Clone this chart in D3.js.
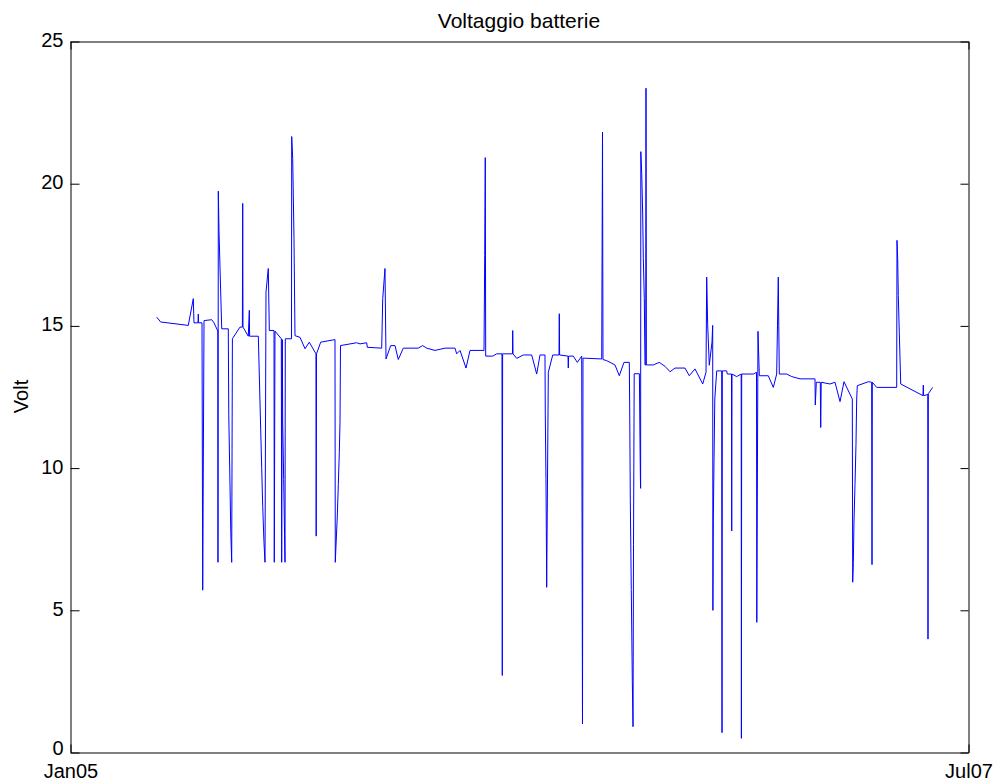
<!DOCTYPE html>
<html>
<head>
<meta charset="utf-8">
<script src="https://cdn.jsdelivr.net/npm/d3@7"></script>
<style>
  html, body { margin: 0; padding: 0; background: #fff; }
  svg { display: block; font-family: "Liberation Sans", Arial, sans-serif; }
</style>
</head>
<body>
<svg id="chart" width="997" height="782"></svg>
<script>
// ---- data ----
const chartTitle = "Voltaggio batterie";
const yLabel = "Volt";
const xTickDates = ["2005-01-01 00", "2007-07-01 00"];
const xTickLabels = ["Jan05", "Jul07"];
const yTicks = [0, 5, 10, 15, 20, 25];

const dates = [
  "2005-03-29 23","2005-04-03 00","2005-05-01 00","2005-05-06 02","2005-05-06 19","2005-05-10 20","2005-05-11 04","2005-05-11 11","2005-05-14 22","2005-05-15 15",
  "2005-05-16 23","2005-05-24 18","2005-05-27 02","2005-05-30 23","2005-05-31 03","2005-05-31 11","2005-06-01 04","2005-06-03 22","2005-06-10 14","2005-06-11 02",
  "2005-06-12 03","2005-06-13 03","2005-06-14 01","2005-06-14 18","2005-06-22 11","2005-06-24 21","2005-06-25 05","2005-06-25 12","2005-06-30 21","2005-07-01 22","2005-07-02 05","2005-07-11 01",
  "2005-07-13 11","2005-07-14 11","2005-07-15 12","2005-07-16 19","2005-07-17 20","2005-07-18 20","2005-07-21 04","2005-07-22 05","2005-07-26 23","2005-07-27 06",
  "2005-07-27 23","2005-08-03 09","2005-08-03 18","2005-08-04 09","2005-08-04 19","2005-08-05 19","2005-08-06 15","2005-08-07 03","2005-08-07 10","2005-08-13 17",
  "2005-08-13 22","2005-08-14 22","2005-08-16 06","2005-08-17 06","2005-08-22 08","2005-08-27 10","2005-08-31 18","2005-09-07 13","2005-09-07 18","2005-09-08 02",
  "2005-09-12 08","2005-09-26 20","2005-09-27 03","2005-09-27 20","2005-09-29 04","2005-09-30 05","2005-10-01 05","2005-10-01 22","2005-10-02 10","2005-10-18 20",
  "2005-10-22 05","2005-10-29 00","2005-10-29 15","2005-11-13 05","2005-11-14 06","2005-11-16 13","2005-11-17 14","2005-11-22 08","2005-11-26 17","2005-11-30 01",
  "2005-12-05 03","2005-12-20 08","2005-12-24 19","2005-12-28 21","2006-01-06 07","2006-01-16 10","2006-01-26 14","2006-01-28 07","2006-01-31 16","2006-02-06 18",
  "2006-02-10 19","2006-02-25 00","2006-02-25 17","2006-02-26 07","2006-02-26 17","2006-03-05 20","2006-03-09 21","2006-03-15 06","2006-03-15 13","2006-03-15 21",
  "2006-03-25 22","2006-03-26 03","2006-03-26 10","2006-03-30 04","2006-04-05 21","2006-04-14 09","2006-04-19 11","2006-04-22 19","2006-04-27 21","2006-04-28 04",
  "2006-04-28 21","2006-04-29 05","2006-04-29 14","2006-05-01 06","2006-05-05 17","2006-05-12 02","2006-05-12 09","2006-05-12 17","2006-05-21 05","2006-05-21 12",
  "2006-05-21 20","2006-05-26 14","2006-05-30 16","2006-06-04 03","2006-06-04 22","2006-06-05 10","2006-06-24 10","2006-06-25 05","2006-06-25 17","2006-06-29 11",
  "2006-07-07 21","2006-07-12 06","2006-07-17 00","2006-07-22 10","2006-07-22 19","2006-07-23 10","2006-07-24 10","2006-07-25 11","2006-07-26 04","2006-07-26 16",
  "2006-07-27 09","2006-08-01 15","2006-08-01 23","2006-08-02 06","2006-08-02 11","2006-08-02 16","2006-08-02 21","2006-08-03 02","2006-08-04 00","2006-08-05 00",
  "2006-08-05 15","2006-08-06 15","2006-08-07 08","2006-08-08 03","2006-08-08 08","2006-08-08 16","2006-08-15 18","2006-08-21 20","2006-08-27 15","2006-09-01 17",
  "2006-09-06 18","2006-09-16 22","2006-09-21 06","2006-09-27 01","2006-10-04 21","2006-10-08 05","2006-10-08 22","2006-10-09 22","2006-10-11 13","2006-10-14 07",
  "2006-10-15 00","2006-10-15 05","2006-10-15 15","2006-10-16 08","2006-10-17 03","2006-10-19 02","2006-10-24 03","2006-10-24 11","2006-10-24 18","2006-10-29 05",
  "2006-10-29 20","2006-11-03 02","2006-11-03 07","2006-11-03 14","2006-11-08 08","2006-11-12 22","2006-11-13 03","2006-11-13 10","2006-11-25 05","2006-11-28 11",
  "2006-11-28 18","2006-11-29 23","2006-12-01 07","2006-12-10 10","2006-12-15 12","2006-12-18 22","2006-12-20 13","2006-12-21 01","2006-12-21 14","2006-12-29 02",
  "2007-01-03 04","2007-01-11 14","2007-01-26 19","2007-01-27 02","2007-01-28 03","2007-02-01 04","2007-02-01 14","2007-02-02 02","2007-02-11 00","2007-02-16 02",
  "2007-02-21 04","2007-02-25 05","2007-03-05 15","2007-03-06 01","2007-03-06 16","2007-03-07 08","2007-03-08 09","2007-03-09 09","2007-03-10 02","2007-03-10 17",
  "2007-03-21 21","2007-03-25 07","2007-03-25 15","2007-03-25 22","2007-03-30 09","2007-04-19 16","2007-04-19 23","2007-04-20 16","2007-04-21 07","2007-04-22 07",
  "2007-04-23 18","2007-05-16 08","2007-05-16 16","2007-05-16 23","2007-05-21 05","2007-05-21 10","2007-05-21 18","2007-05-26 05"
];

const volts = [
  15.29,15.12,15.0,15.94,15.09,15.09,15.4,15.09,15.09,5.69,
  15.17,15.2,15.09,14.8,6.67,19.72,18.3,14.88,14.88,11.82,
  9.77,7.71,6.67,14.53,14.94,14.94,19.29,14.94,14.62,15.53,14.62,14.62,
  11.35,10.01,8.64,7.37,6.67,16.17,17.0,14.82,14.82,6.67,
  14.8,14.53,6.67,14.5,11.6,9.59,7.65,6.67,14.53,14.53,
  21.64,20.87,18.05,14.64,14.58,14.18,14.41,14.0,7.59,14.0,
  14.41,14.5,6.67,7.24,8.30,9.41,10.53,11.59,14.29,14.39,
  14.35,14.39,14.23,14.2,15.94,17.0,13.82,14.29,14.29,13.8,
  14.2,14.2,14.29,14.2,14.12,14.2,14.2,14.0,14.12,13.5,
  14.12,14.12,17.46,20.9,13.92,13.92,14.0,14.0,2.69,14.0,
  14.0,14.82,14.0,13.84,13.96,13.96,13.29,13.96,13.96,11.88,
  9.59,7.83,5.79,13.35,13.96,13.96,15.41,13.96,13.92,13.5,
  13.92,13.92,13.7,13.92,0.99,13.85,13.82,21.8,13.8,13.76,
  13.61,13.23,13.7,13.7,12.1,8.89,5.71,2.48,0.89,7.3,
  13.3,13.3,12.06,11.0,10.24,9.6,9.27,21.11,20.35,18.88,
  17.35,15.94,13.61,13.61,23.34,13.61,13.61,13.70,13.56,13.37,
  13.5,13.5,13.23,13.47,12.94,13.35,16.7,15.02,13.6,14.41,
  15.0,4.98,8.11,10.23,12.41,13.4,13.4,0.68,13.4,13.4,
  13.29,13.29,7.77,13.29,13.2,13.29,0.48,13.29,13.29,13.35,
  4.56,14.79,13.23,13.23,12.82,13.29,16.70,15.0,13.29,13.29,
  13.2,13.12,13.12,12.2,13.0,13.0,11.41,13.0,12.94,13.0,
  12.32,13.02,12.41,5.97,6.67,8.08,9.41,10.82,12.41,12.88,
  13.02,13.0,6.59,13.0,12.82,12.82,17.99,17.35,16.05,14.76,
  12.94,12.53,12.9,12.53,12.57,3.97,12.6,12.82
];

// ---- layout ----
const W = 997, H = 782;
const margin = { left: 70, right: 29, top: 41, bottom: 30 };
const parse = d3.timeParse("%Y-%m-%d %H");

const svg = d3.select("#chart");
svg.append("rect").attr("width", W).attr("height", H).attr("fill", "#fff");

const x = d3.scaleTime()
  .domain(xTickDates.map(parse))
  .range([margin.left, W - margin.right]);
const y = d3.scaleLinear()
  .domain([0, 25])
  .range([H - margin.bottom, margin.top]);

const n = Math.min(dates.length, volts.length);
const data = d3.range(n).map(i => ({ t: parse(dates[i]), v: volts[i] }));

// line
const line = d3.line().x(d => x(d.t)).y(d => y(d.v));
svg.append("path")
  .datum(data)
  .attr("fill", "none")
  .attr("stroke", "#0000ff")
  .attr("stroke-width", 1)
  .attr("stroke-linejoin", "miter")
  .attr("d", line);

// axes
const tickFont = 20;
const gx = svg.append("g")
  .attr("transform", `translate(0.5,${H - margin.bottom + 0.5})`)
  .call(d3.axisBottom(x)
    .tickValues(xTickDates.map(parse))
    .tickFormat((d, i) => xTickLabels[i])
    .tickSizeInner(-8).tickSizeOuter(0).tickPadding(11));

const gxTop = svg.append("g")
  .attr("transform", `translate(0.5,${margin.top + 0.5})`)
  .call(d3.axisTop(x)
    .tickValues(xTickDates.map(parse))
    .tickFormat("")
    .tickSizeInner(-8).tickSizeOuter(0));

const gy = svg.append("g")
  .attr("transform", `translate(${margin.left + 0.5},0.5)`)
  .call(d3.axisLeft(y)
    .tickValues(yTicks)
    .tickFormat(d3.format("d"))
    .tickSizeInner(-9).tickSizeOuter(0).tickPadding(7));

const gyR = svg.append("g")
  .attr("transform", `translate(${W - margin.right + 0.5},0.5)`)
  .call(d3.axisRight(y)
    .tickValues(yTicks)
    .tickFormat("")
    .tickSizeInner(-8).tickSizeOuter(0));

[gx, gxTop, gy, gyR].forEach(g => {
  g.selectAll(".domain").attr("stroke", "#000").attr("stroke-width", 1);
  g.selectAll(".tick line").attr("stroke", "#000").attr("stroke-width", 1);
  g.selectAll(".tick text")
    .attr("fill", "#000")
    .attr("font-size", tickFont)
    .attr("font-family", '"Liberation Sans", Arial, sans-serif');
});
gy.selectAll(".tick text").attr("dy", d => d === 0 ? "0.1em" : "0.25em");

// title
svg.append("text")
  .attr("x", (margin.left + W - margin.right) / 2)
  .attr("y", 28)
  .attr("text-anchor", "middle")
  .attr("font-size", 21)
  .attr("fill", "#000")
  .text(chartTitle);

// y label
svg.append("text")
  .attr("transform", `translate(28,${(margin.top + H - margin.bottom) / 2}) rotate(-90)`)
  .attr("text-anchor", "middle")
  .attr("font-size", 20)
  .attr("fill", "#000")
  .text(yLabel);
</script>
</body>
</html>
